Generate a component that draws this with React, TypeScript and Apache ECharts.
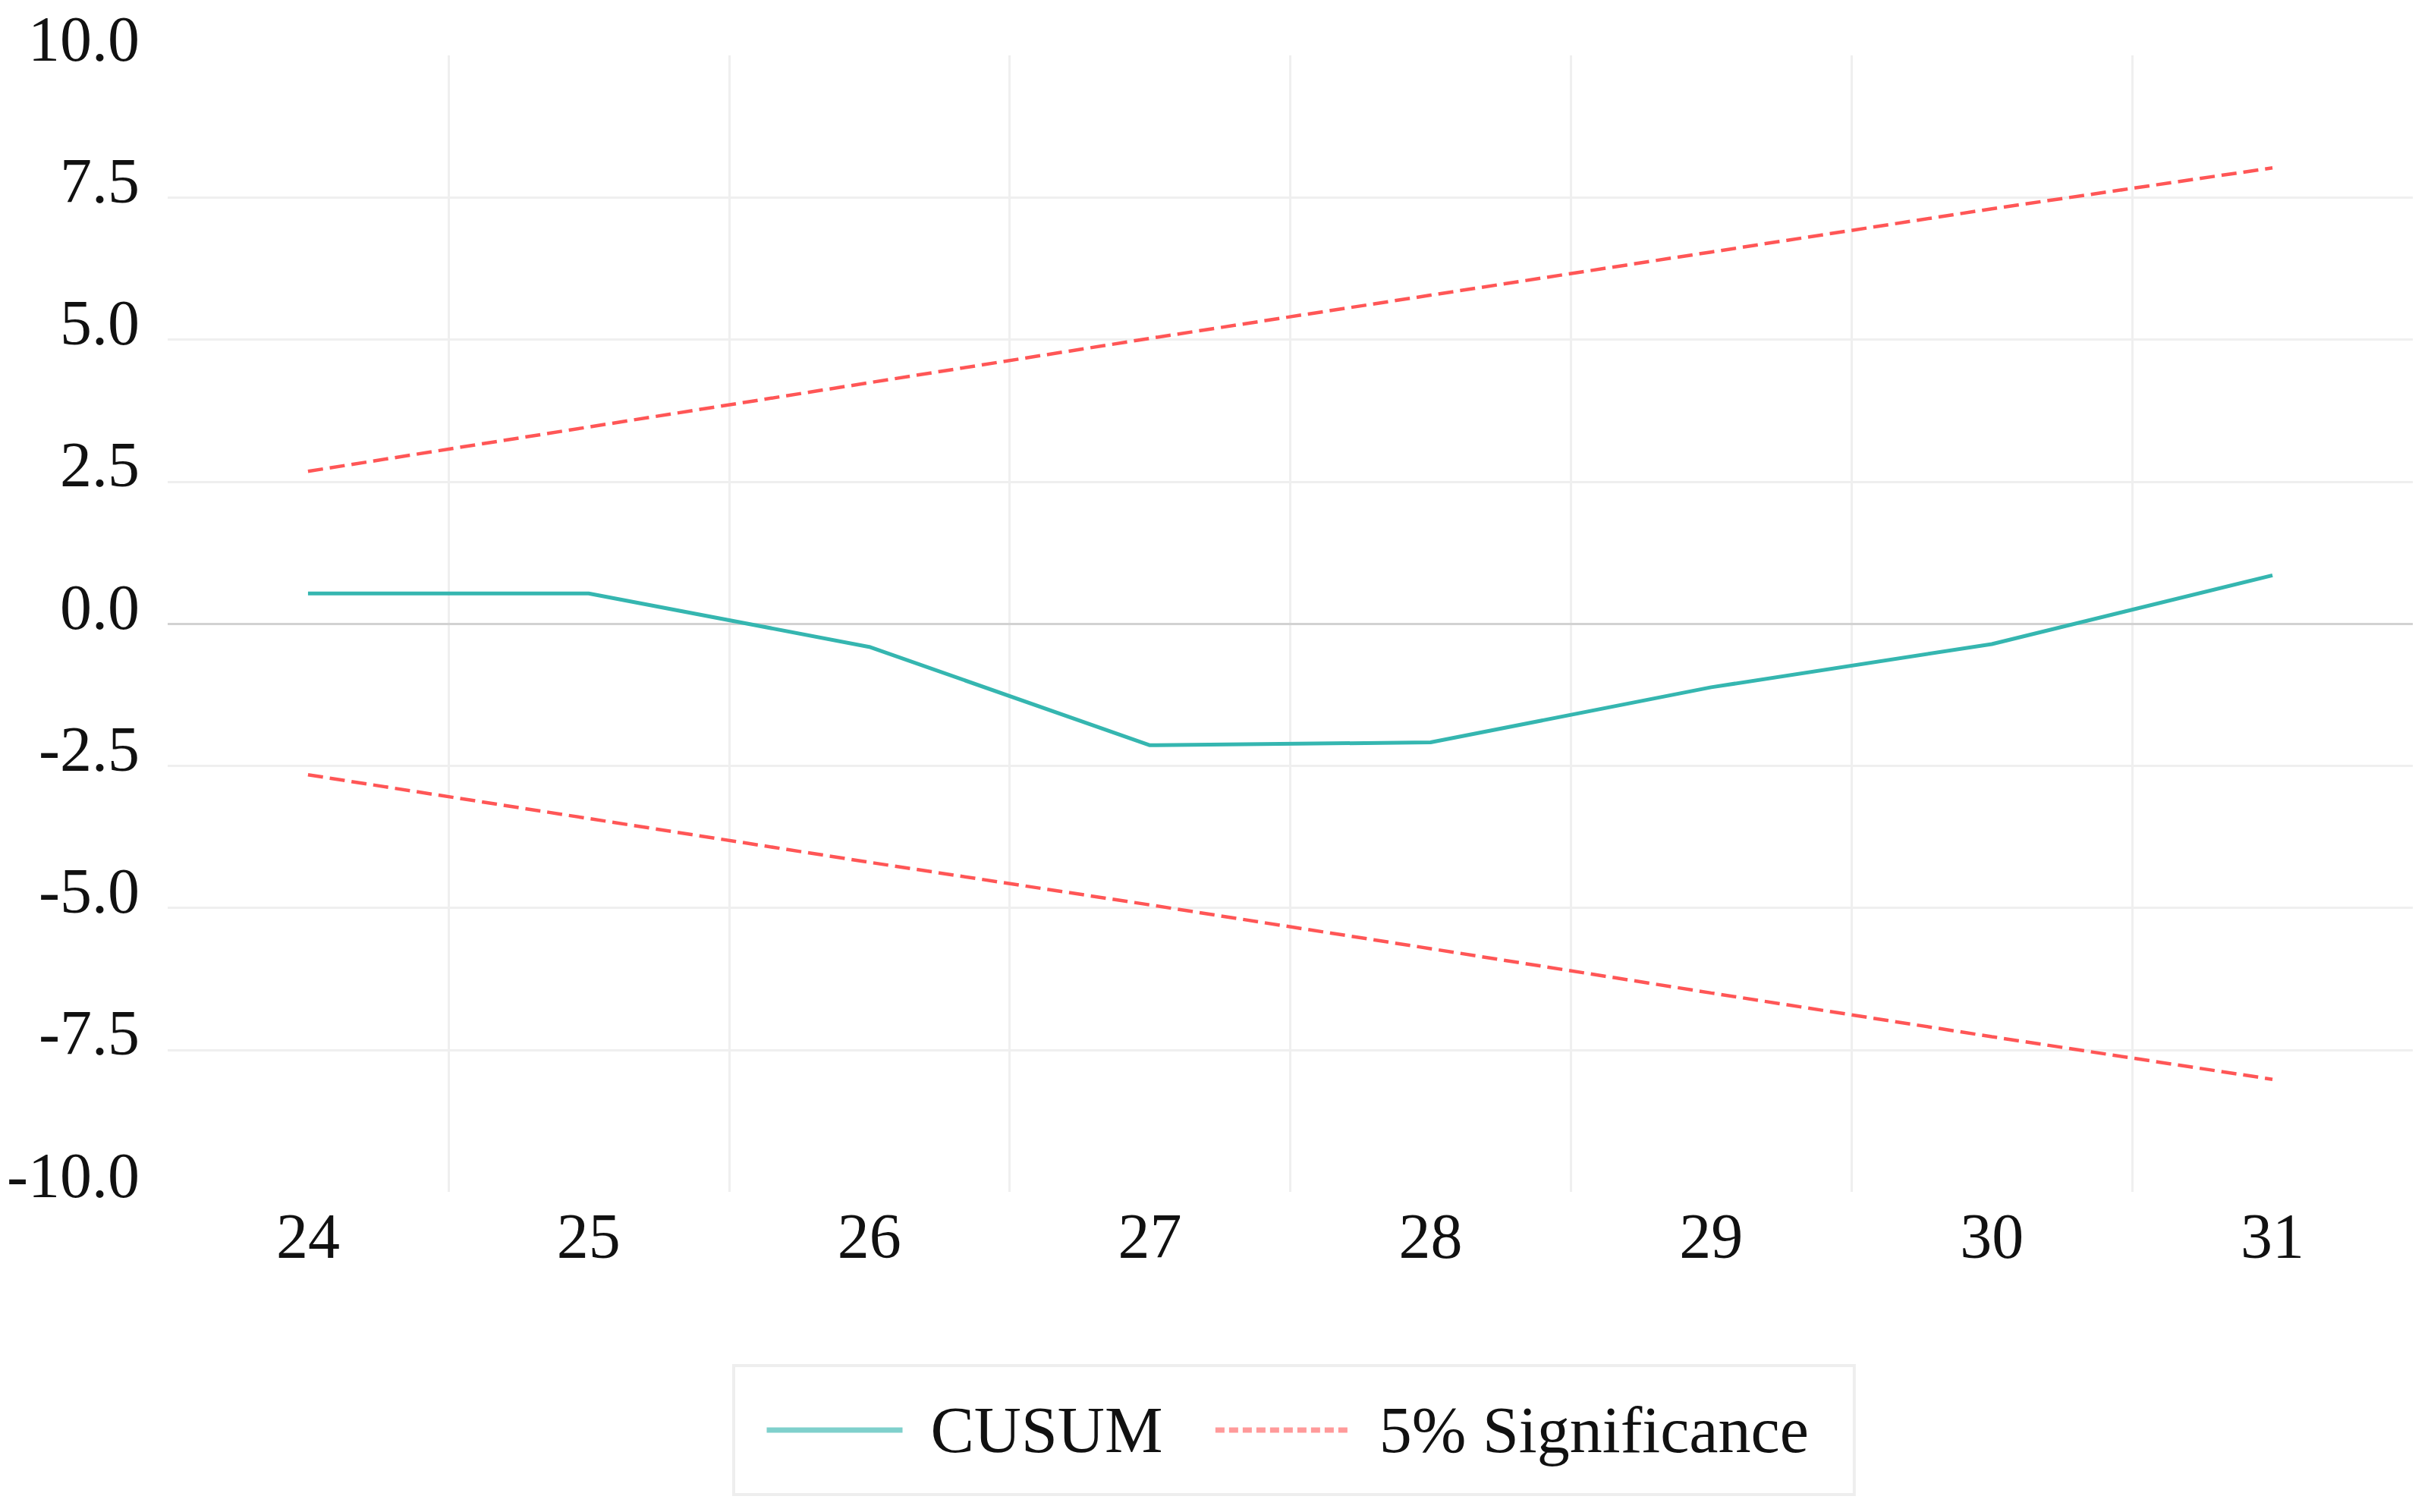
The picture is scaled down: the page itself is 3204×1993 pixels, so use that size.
import React, { useEffect, useRef } from "react";
import * as echarts from "echarts";

const categories = ["24", "25", "26", "27", "28", "29", "30", "31"];
const cusum = [0.53, 0.53, -0.41, -2.14, -2.09, -1.12, -0.36, 0.85];
const upper = [2.68, 3.46, 4.24, 5.02, 5.78, 6.54, 7.3, 8.02];
const lower = [-2.66, -3.43, -4.2, -4.95, -5.72, -6.5, -7.27, -8.02];

const FONT = "'Liberation Serif', 'DejaVu Serif', serif";

export default function App() {
  const ref = useRef<HTMLDivElement>(null);
  useEffect(() => {
    if (!ref.current) return;
    const chart = echarts.init(ref.current, undefined, { renderer: "svg" });
    chart.setOption({
      animation: false,
      backgroundColor: "#ffffff",
      grid: { left: 221, right: 24, top: 73, bottom: 422, containLabel: false },
      legend: {
        left: 967,
        top: 1800,
        orient: "horizontal",
        itemWidth: 179,
        itemHeight: 20,
        itemGap: 66,
        padding: [42, 60, 42, 40],
        borderColor: "#eeeeee",
        borderWidth: 4,
        itemStyle: { opacity: 0 },
        textStyle: {
          fontFamily: FONT,
          fontSize: 86,
          color: "#111111",
          padding: [0, 0, 0, 32],
        },
        data: [
          { name: "CUSUM", lineStyle: { color: "#7fd0cc", width: 7 } },
          { name: "5% Significance", lineStyle: { color: "#ff9a9a", width: 7, type: [12, 6] } },
        ],
      },
      xAxis: {
        type: "category",
        data: categories,
        boundaryGap: true,
        axisLine: { show: false },
        axisTick: { show: false },
        axisLabel: {
          fontFamily: FONT,
          fontSize: 84,
          color: "#111111",
          margin: 16,
        },
        splitLine: {
          show: true,
          showMinLine: false,
          showMaxLine: false,
          lineStyle: { color: "#efefef", width: 3 },
        },
      },
      yAxis: {
        type: "value",
        min: -10,
        max: 10,
        interval: 2.5,
        axisLine: { show: false },
        axisTick: { show: false },
        axisLabel: {
          fontFamily: FONT,
          fontSize: 84,
          color: "#111111",
          margin: 37,
          verticalAlign: "bottom",
          lineHeight: 44,
          formatter: (v: number) => v.toFixed(1),
        },
        splitLine: {
          show: true,
          showMinLine: false,
          showMaxLine: false,
          lineStyle: { color: "#efefef", width: 3 },
        },
      },
      series: [
        {
          name: "CUSUM",
          type: "line",
          data: cusum,
          showSymbol: false,
          symbol: "none",
          lineStyle: { color: "#35b6b0", width: 5 },
          itemStyle: { color: "#35b6b0" },
          z: 3,
          markLine: {
            silent: true,
            symbol: ["none", "none"],
            label: { show: false },
            lineStyle: { color: "#d2d2d2", width: 3, type: "solid" },
            data: [{ yAxis: 0 }],
            z: 1,
          },
        },
        {
          name: "5% Significance",
          type: "line",
          data: upper,
          showSymbol: false,
          symbol: "none",
          lineStyle: { color: "#ff5656", width: 4.5, type: [20, 9] },
          itemStyle: { color: "#ff5656" },
        },
        {
          name: "5% Significance",
          type: "line",
          data: lower,
          showSymbol: false,
          symbol: "none",
          lineStyle: { color: "#ff5656", width: 4.5, type: [20, 9] },
          itemStyle: { color: "#ff5656" },
        },
      ],
    });
    return () => chart.dispose();
  }, []);
  return (
    <div
      ref={ref}
      style={{ position: "fixed", left: 0, top: 0, width: 3204, height: 1993 }}
    />
  );
}
